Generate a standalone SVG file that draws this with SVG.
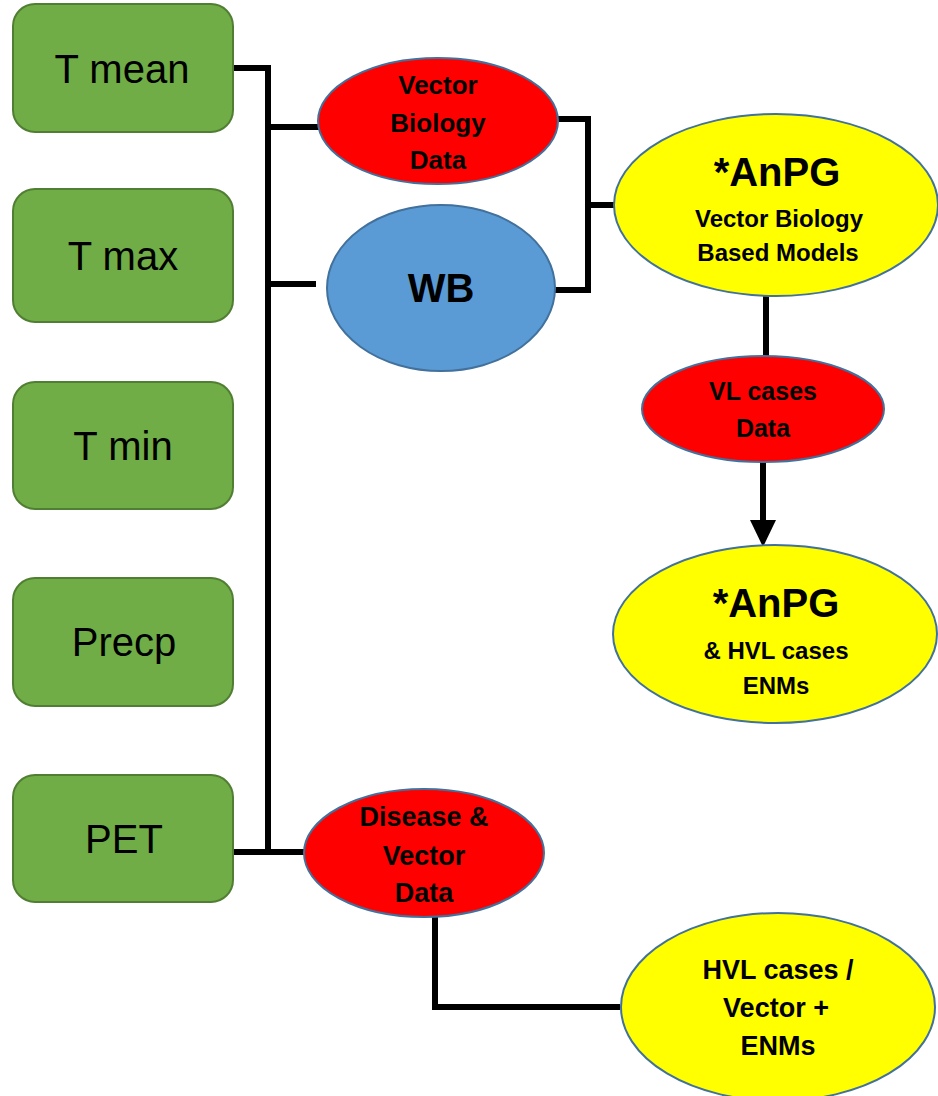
<svg xmlns="http://www.w3.org/2000/svg" width="938" height="1096" viewBox="0 0 938 1096">
<defs>
<style>
.box{fill:#70AD47;stroke:#507E32;stroke-width:2}
.red{fill:#FF0000;stroke:#41719C;stroke-width:2}
.yel{fill:#FFFF00;stroke:#41719C;stroke-width:2}
.blu{fill:#5B9BD5;stroke:#41719C;stroke-width:2}
.lt{font-family:"Liberation Sans",Arial,sans-serif;font-size:40px;fill:#000;text-anchor:middle;dominant-baseline:central}
.bt{font-family:"Liberation Sans",Arial,sans-serif;font-weight:bold;fill:#000;text-anchor:middle;dominant-baseline:central}
.ln{fill:none;stroke:#000;stroke-width:6}
</style>
<marker id="ah" markerWidth="9" markerHeight="9" refX="4.5" refY="4.5" orient="auto" markerUnits="userSpaceOnUse" viewBox="0 0 9 9">
<path d="M0,0 L9,4.5 L0,9 z" fill="#000"/>
</marker>
</defs>
<rect width="938" height="1096" fill="#fff"/>
<g id="connectors">
<path class="ln" d="M233,68 H268 V852"/>
<path class="ln" d="M268,127 H319"/>
<path class="ln" d="M268,284 H316"/>
<path class="ln" d="M233,852 H304"/>
<path class="ln" d="M557,119 H588 V290 H555"/>
<path class="ln" d="M588,205 H615"/>
<path class="ln" d="M766,296 V358"/>
<path class="ln" d="M763,462 V522"/>
<path d="M750,520 L776,520 L763,547 z" fill="#000"/>
<path class="ln" d="M435,917 V1007 H620"/>
</g>
<g id="tmean"><rect class="box" x="13" y="4" width="220" height="128" rx="22"/><text class="lt" x="122" y="69">T mean</text></g>
<g id="tmax"><rect class="box" x="13" y="189" width="220" height="133" rx="22"/><text class="lt" x="123" y="256">T max</text></g>
<g id="tmin"><rect class="box" x="13" y="382" width="220" height="127" rx="22"/><text class="lt" x="123" y="446">T min</text></g>
<g id="precp"><rect class="box" x="13" y="578" width="220" height="128" rx="22"/><text class="lt" x="124" y="642">Precp</text></g>
<g id="pet"><rect class="box" x="13" y="775" width="220" height="127" rx="22"/><text class="lt" x="124" y="839">PET</text></g>
<g id="vbd"><ellipse class="red" cx="438" cy="121" rx="120" ry="63"/>
<text class="bt" font-size="26" x="438" y="85">Vector</text><text class="bt" font-size="26" x="438" y="123">Biology</text><text class="bt" font-size="26" x="438" y="160">Data</text></g>
<g id="wb"><ellipse class="blu" cx="441" cy="288" rx="114" ry="83"/><text class="bt" font-size="40" x="441" y="288">WB</text></g>
<g id="anpg1"><ellipse class="yel" cx="776" cy="205" rx="162" ry="91"/>
<text class="bt" font-size="40" x="777" y="172">*AnPG</text><text class="bt" font-size="24" x="779" y="218">Vector Biology</text><text class="bt" font-size="24" x="778" y="252">Based Models</text></g>
<g id="vl"><ellipse class="red" cx="763" cy="409" rx="121" ry="53"/>
<text class="bt" font-size="25" x="763" y="391">VL cases</text><text class="bt" font-size="25" x="763" y="428">Data</text></g>
<g id="anpg2"><ellipse class="yel" cx="775" cy="634" rx="162" ry="89"/>
<text class="bt" font-size="40" x="776" y="603">*AnPG</text><text class="bt" font-size="24" x="776" y="650">&amp; HVL cases</text><text class="bt" font-size="24" x="776" y="685">ENMs</text></g>
<g id="dvd"><ellipse class="red" cx="424" cy="853" rx="120" ry="64"/>
<text class="bt" font-size="27" x="424" y="817">Disease &amp;</text><text class="bt" font-size="27" x="424" y="856">Vector</text><text class="bt" font-size="27" x="424" y="893">Data</text></g>
<g id="hvl"><ellipse class="yel" cx="778" cy="1007" rx="157" ry="94"/>
<text class="bt" font-size="27" x="778" y="970">HVL cases /</text><text class="bt" font-size="27" x="776" y="1008">Vector +</text><text class="bt" font-size="27" x="778" y="1046">ENMs</text></g>
</svg>
